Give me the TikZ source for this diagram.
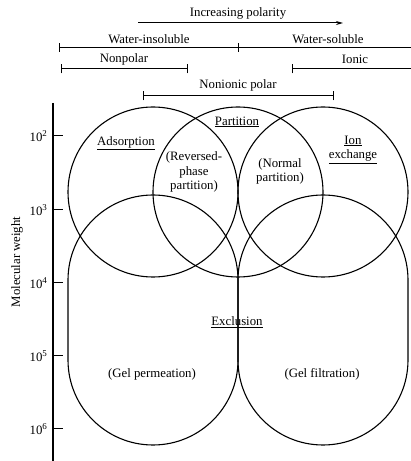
\documentclass[tikz,border=0pt]{standalone}
\usepackage{fontspec}
\setmainfont{Liberation Serif}
\usetikzlibrary{arrows.meta}
\begin{document}
\begin{tikzpicture}[x=1pt,y=1pt,
  line width=1.1pt,
  lbl/.style={font=\fontsize{12.8}{14.5}\selectfont, inner sep=0pt, align=center},
  bar/.style={line width=1pt},
  tk/.style={line width=1pt}]
\useasboundingbox (0,0) rectangle (411,461);
% header
\node[lbl] (incr) at (238,448) {Increasing polarity};
\coordinate (arA) at (138,438);
\coordinate (arB) at (343,438);
\draw[bar,-{Stealth[length=7pt,width=4pt]}] (arA) -- (arB);
\node[lbl] (wins) at (149,422) {Water-insoluble};
\node[lbl] (wsol) at (328,422) {Water-soluble};
\coordinate (wL) at (59,413.5); \coordinate (wM) at (238,413.5); \coordinate (wR) at (412,413.5);
\draw[bar] (wL) -- (wR);
\draw[tk] ([yshift=-4.5pt]wL) -- ([yshift=4.5pt]wL);
\draw[tk] ([yshift=-4.5pt]wM) -- ([yshift=4.5pt]wM);
\node[lbl] (npol) at (124,402) {Nonpolar};
\coordinate (nL) at (61,392); \coordinate (nR) at (187,392);
\draw[bar] (nL) -- (nR);
\draw[tk] ([yshift=-4.5pt]nL) -- ([yshift=4.5pt]nL);
\draw[tk] ([yshift=-4.5pt]nR) -- ([yshift=4.5pt]nR);
\node[lbl] (ionic) at (355,402) {Ionic};
\coordinate (iL) at (292,392); \coordinate (iR) at (412,392);
\draw[bar] (iL) -- (iR);
\draw[tk] ([yshift=-4.5pt]iL) -- ([yshift=4.5pt]iL);
\node[lbl] (nip) at (238,376) {Nonionic polar};
\coordinate (pL) at (143,365); \coordinate (pR) at (333,365);
\draw[bar] (pL) -- (pR);
\draw[tk] ([yshift=-4.5pt]pL) -- ([yshift=4.5pt]pL);
\draw[tk] ([yshift=-4.5pt]pR) -- ([yshift=4.5pt]pR);
% axis
\coordinate (axT) at (53,358); \coordinate (axB) at (53,0);
\draw[line width=1.2pt] (axT) -- (axB);
\foreach \yy/\ee in {325/2,251/3,178/4,105/5,32/6}{
  \draw[tk] (53,\yy) -- (63,\yy);
  \node[lbl, anchor=east] at (48,\yy) {10\textsuperscript{\ee}};
}
\node[lbl, rotate=90] (mw) at (17,199) {Molecular weight};
% top circles
\draw (153,269) circle[radius=85pt];
\draw (238,269) circle[radius=85pt];
\draw (323,269) circle[radius=85pt];
% bottom stadiums
\draw (68,181) -- (68,101) arc[start angle=180,end angle=360,radius=85pt] -- (238,181) arc[start angle=0,end angle=180,radius=85pt] -- cycle;
\draw (238,181) -- (238,101) arc[start angle=180,end angle=360,radius=85pt] -- (408,181) arc[start angle=0,end angle=180,radius=85pt] -- cycle;
% labels
\node[lbl] (ads) at (126,318) {\underline{Adsorption}};
\node[lbl] (part) at (237,339) {\underline{Partition}};
\node[lbl] (ion) at (353,311.5) {\underline{Ion}\\\underline{exchange}};
\node[lbl] (rev) at (194,289) {(Reversed-\\phase\\partition)};
\node[lbl] (norm) at (280,289.5) {(Normal\\partition)};
\node[lbl] (excl) at (237,139) {\underline{Exclusion}};
\node[lbl] (gperm) at (152,87) {(Gel permeation)};
\node[lbl] (gfilt) at (322,87) {(Gel filtration)};
\end{tikzpicture}
\end{document}
